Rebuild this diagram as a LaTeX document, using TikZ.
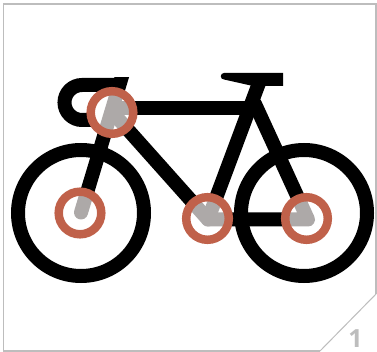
\documentclass[tikz,border=0pt]{standalone}
\usepackage{fontspec}
\setmainfont{Open Sans}
\definecolor{ringred}{HTML}{C0614A}
\definecolor{partgrey}{HTML}{ADA9A8}
\definecolor{edgegrey}{HTML}{BDBDBD}
\tikzset{
  edgeline/.style={draw=edgegrey,line width=1.8pt},
  wheel/.style={draw=black,line width=14pt},
  tube/.style={line width=14pt,line cap=round,line join=round},
  ring/.style={draw=ringred,line width=8.5pt},
}
\newcommand{\tubes}[1]{%
  \begin{scope}
    \clip (0,78) rectangle (377,352);
    \draw[tube,#1] (124.5,68) -- (81,212.5);
  \end{scope}
  \draw[tube,#1] (259,83) -- (208,219.5);
  \draw[tube,#1] (115,108.5) -- (252,108.5);
  \draw[tube,#1] (113,113) -- (208,219.5) -- (308,219.5) -- (255,104);
}
\newcommand{\jointdetail}[2]{%
  \begin{scope}
    \fill[white] (#1,#2) circle (23pt);
    \clip (#1,#2) circle (23pt);
    \tubes{draw=partgrey}
  \end{scope}
  \draw[ring] (#1,#2) circle (21.3pt);
}
\begin{document}
\begin{tikzpicture}[x=1pt,y=-1pt]
\useasboundingbox (0,0) rectangle (377,352);
\fill[white] (0,0) rectangle (377,352);
% card edge
\draw[edgeline] (320,350.8) -- (3.5,350.8) -- (3.5,3.7) -- (376,3.7) -- (376,294);
\draw[edgegrey,line width=1pt] (320,351) -- (377,293);
\node[text=edgegrey,font=\fontsize{25}{25}\selectfont\bfseries,inner sep=0pt] (num) at (355.5,338.5) {1};
% wheels
\draw[wheel] (81,213) circle (63pt);
\draw[wheel] (304,213) circle (63pt);
% handlebar
\draw[line width=14pt] (118,85) -- (82,85) arc[start angle=90,end angle=270,radius=17.5pt] -- (100,120);
% saddle
\fill[black] (224,73) -- (283,73) -- (283,86) -- (253,86) -- (224,79.5) arc[start angle=270,end angle=90,radius=3.25pt] -- cycle;
% frame
\tubes{draw=black}
% highlighted joints
\jointdetail{112}{112.5}
\jointdetail{80}{213}
\jointdetail{207.5}{218.5}
\jointdetail{306.5}{218.5}
\end{tikzpicture}
\end{document}
